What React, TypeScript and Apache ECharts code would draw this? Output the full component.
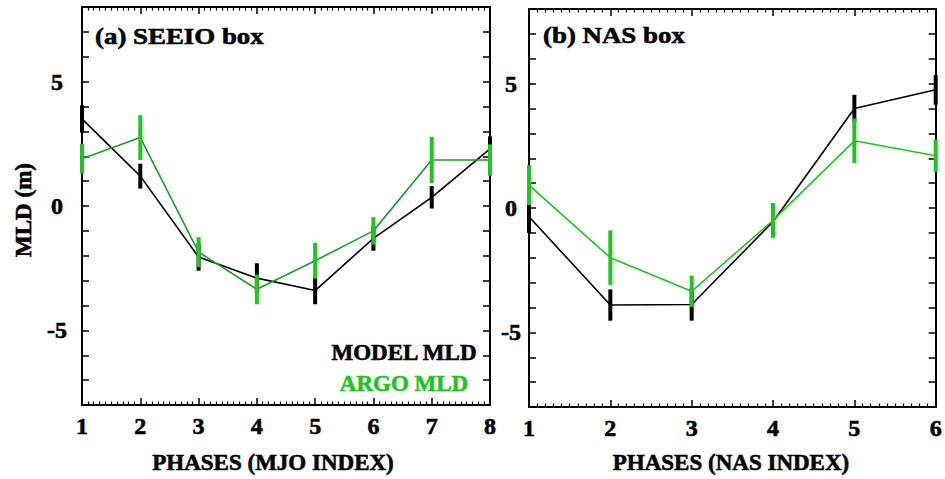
import React, { useEffect, useRef } from "react";
import * as echarts from "echarts";

// ---- Data ----
const phasesMJO = [1, 2, 3, 4, 5, 6, 7, 8];
const modelSEEIO = [3.5, 1.2, -2.05, -2.9, -3.4, -1.3, 0.35, 2.3];
const modelSEEIOErr = [0.55, 0.5, 0.55, 0.6, 0.55, 0.5, 0.45, 0.5];
const argoSEEIO = [1.9, 2.75, -1.85, -3.35, -2.2, -1.0, 1.85, 1.85];
const argoSEEIOErr = [0.6, 0.9, 0.6, 0.6, 0.72, 0.55, 0.93, 0.63];

const phasesNAS = [1, 2, 3, 4, 5, 6];
const modelNAS = [-0.35, -3.9, -3.88, -0.55, 4.0, 4.75];
const modelNASErr = [0.65, 0.63, 0.65, 0.5, 0.55, 0.6];
const argoNAS = [0.92, -2.0, -3.35, -0.5, 2.7, 2.1];
const argoNASErr = [0.8, 1.1, 0.63, 0.7, 0.9, 0.65];

const yTickLabels = [-5, 0, 5];
const titles = ["(a) SEEIO box", "(b) NAS box"];
const xNames = ["PHASES (MJO INDEX)", "PHASES (NAS INDEX)"];
const yName = "MLD (m)";
const legendNames = ["MODEL MLD", "ARGO MLD"];

const FONT = "Liberation Serif";
const BLACK = "#000000";
const GREEN = "#22c322";
const GREEN_DARK = "#1f9a30";

const pts = (xs: number[], ys: number[]) => xs.map((x, i) => [x, ys[i]]);
const errs = (xs: number[], ys: number[], e: number[]) =>
  xs.map((x, i) => [x, ys[i] - e[i], ys[i] + e[i]]);

const errorBarSeries = (
  data: number[][],
  color: string,
  xAxisIndex: number,
  yAxisIndex: number,
  z: number
) => ({
  type: "custom",
  xAxisIndex,
  yAxisIndex,
  z,
  clip: false,
  data,
  encode: { x: 0, y: [1, 2] },
  renderItem: (params: any, api: any) => {
    const x = api.value(0);
    const top = api.coord([x, api.value(2)]);
    const bot = api.coord([x, api.value(1)]);
    return {
      type: "rect",
      shape: { x: top[0] - 2, y: top[1], width: 4, height: bot[1] - top[1] },
      style: { fill: color },
    };
  },
});

const lineSeries = (
  data: number[][],
  color: string,
  xAxisIndex: number,
  yAxisIndex: number,
  z: number,
  name: string
) => ({
  type: "line",
  name,
  xAxisIndex,
  yAxisIndex,
  z,
  data,
  symbol: "none",
  lineStyle: { color, width: 1.6 },
});

const axisLine = { show: true, onZero: false, lineStyle: { color: BLACK, width: 2 } };

const labelStyle = {
  fontFamily: FONT,
  fontWeight: "bold",
  fontSize: 24,
  color: BLACK,
  textBorderColor: BLACK,
  textBorderWidth: 0.6,
};

const xAxisDef = (gridIndex: number, max: number, position: string, labels: boolean) => ({
  type: "value",
  gridIndex,
  position,
  min: 1,
  max,
  interval: 1,
  axisLine,
  splitLine: { show: false },
  axisTick: { show: true, inside: true, length: 7, lineStyle: { color: BLACK, width: 1.5 } },
  minorTick: { show: true, splitNumber: 10, length: 3.5, lineStyle: { color: BLACK, width: 1.2 } },
  minorSplitLine: { show: false },
  axisLabel: { show: labels, margin: 9, ...labelStyle },
});

const yAxisDef = (gridIndex: number, position: string, labels: boolean, margin: number) => ({
  type: "value",
  gridIndex,
  position,
  min: -8,
  max: 8,
  interval: 1,
  axisLine,
  splitLine: { show: false },
  axisTick: { show: true, inside: true, length: 7, lineStyle: { color: BLACK, width: 1.5 } },
  axisLabel: {
    show: labels,
    margin,
    align: "center",
    ...labelStyle,
    formatter: (v: number) => (yTickLabels.indexOf(v) >= 0 ? String(v) : ""),
  },
});

const txt = (
  text: string,
  x: number,
  y: number,
  size: number,
  color: string,
  align: string,
  extra: any = {}
) => ({
  type: "text",
  x,
  y,
  ...extra,
  style: {
    text,
    fill: color,
    stroke: color,
    lineWidth: 0.6,
    font: `bold ${size}px "${FONT}"`,
    textAlign: align,
    textVerticalAlign: "middle",
    align,
    verticalAlign: "middle",
  },
});

export default function App() {
  const ref = useRef<HTMLDivElement>(null);
  useEffect(() => {
    if (!ref.current) return;
    const chart = echarts.init(ref.current, null, { renderer: "svg" });
    chart.setOption({
      animation: false,
      backgroundColor: "#ffffff",
      grid: [
        { left: 82, top: 7, width: 408, height: 398 },
        { left: 529, top: 9, width: 408, height: 398 },
      ],
      xAxis: [
        xAxisDef(0, 8, "bottom", true),
        xAxisDef(0, 8, "top", false),
        xAxisDef(1, 6, "bottom", true),
        xAxisDef(1, 6, "top", false),
      ],
      yAxis: [
        yAxisDef(0, "left", true, 25),
        yAxisDef(0, "right", false, 8),
        yAxisDef(1, "left", true, 18),
        yAxisDef(1, "right", false, 8),
      ],
      series: [
        lineSeries(pts(phasesMJO, modelSEEIO), BLACK, 0, 0, 2, "MODEL MLD"),
        errorBarSeries(errs(phasesMJO, modelSEEIO, modelSEEIOErr), BLACK, 0, 0, 3),
        lineSeries(pts(phasesMJO, argoSEEIO), GREEN_DARK, 0, 0, 4, "ARGO MLD"),
        errorBarSeries(errs(phasesMJO, argoSEEIO, argoSEEIOErr), GREEN, 0, 0, 5),
        lineSeries(pts(phasesNAS, modelNAS), BLACK, 2, 2, 2, "MODEL MLD"),
        errorBarSeries(errs(phasesNAS, modelNAS, modelNASErr), BLACK, 2, 2, 3),
        lineSeries(pts(phasesNAS, argoNAS), GREEN, 2, 2, 4, "ARGO MLD"),
        errorBarSeries(errs(phasesNAS, argoNAS, argoNASErr), GREEN, 2, 2, 5),
      ],
      graphic: [
        txt(titles[0], 95, 36, 24, BLACK, "left", { scaleX: 1.12 }),
        txt(titles[1], 543, 35, 24, BLACK, "left", { scaleX: 1.12 }),
        txt(xNames[0], 273, 462, 23, BLACK, "center"),
        txt(xNames[1], 731, 462, 23, BLACK, "center"),
        txt(yName, 23, 210, 23, BLACK, "center", { rotation: Math.PI / 2 }),
        txt(legendNames[0], 404, 352, 23, BLACK, "center"),
        txt(legendNames[1], 404, 383, 23, GREEN, "center"),
      ],
    });
    return () => chart.dispose();
  }, []);
  return <div ref={ref} style={{ width: 945, height: 479, position: "absolute", left: 0, top: 0 }} />;
}
